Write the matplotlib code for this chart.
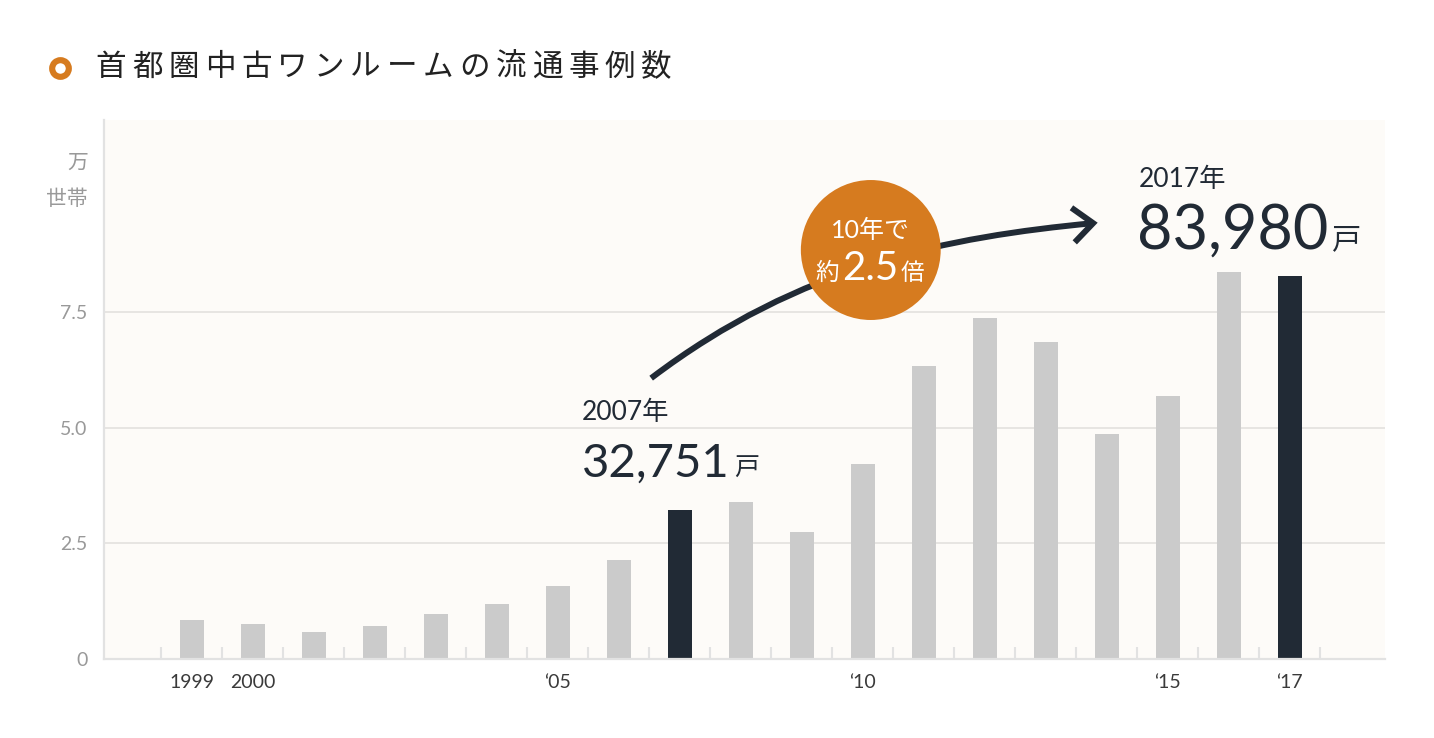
import matplotlib
matplotlib.use("Agg")
import matplotlib.pyplot as plt
from matplotlib.path import Path
from matplotlib.patches import FancyArrowPatch, Ellipse
from matplotlib.lines import Line2D

# -------------------------
# Dati (万戸)
# -------------------------
years = list(range(1999, 2018))
counts = [0.84, 0.76, 0.58, 0.71, 0.97, 1.19, 1.58, 2.14, 3.22, 3.39,
          2.74, 4.21, 6.33, 7.37, 6.85, 4.86, 5.68, 8.36, 8.28]
highlight_years = [2007, 2017]

xtick_years = [1999, 2000, 2005, 2010, 2015, 2017]
xtick_labels = ["1999", "2000", "‘05", "‘10", "‘15", "‘17"]
ytick_vals = [0, 2.5, 5.0, 7.5]
ytick_labels = ["0", "2.5", "5.0", "7.5"]

title = "首都圏中古ワンルームの流通事例数"
unit_label = ["万", "世帯"]

# -------------------------
# Stile
# -------------------------
ORANGE = "#D67B1F"
DARK = "#212A35"
GRAY_BAR = "#CBCBCB"
BG = "#FDFBF8"
LINE = "#E3E1DE"
NUM_FONT = ["Lato", "Noto Sans CJK JP"]
JP_FONT = ["Noto Sans CJK JP", "DejaVu Sans"]

plt.rcParams["font.family"] = NUM_FONT

W, H = 1434, 738
fig = plt.figure(figsize=(W / 100, H / 100), dpi=100)
fig.patch.set_facecolor("white")
ax = fig.add_axes([104 / W, 79 / H, 1281 / W, 539 / H])
ax.set_facecolor(BG)
ax.set_xlim(1997.56, 2018.56)
ax.set_ylim(0, 11.65)

colors = [DARK if y in highlight_years else GRAY_BAR for y in years]
ax.bar(years, counts, width=0.39, color=colors, zorder=2)

# assi e griglia
ax.set_yticks(ytick_vals)
ax.set_yticklabels(ytick_labels)
ax.set_xticks(xtick_years)
ax.set_xticklabels(xtick_labels)
ax.set_xticks([y - 0.5 for y in years] + [years[-1] + 0.5], minor=True)
ax.yaxis.grid(True, color=LINE, lw=1.2)
ax.set_axisbelow(True)
for s in ["top", "right"]:
    ax.spines[s].set_visible(False)
for s in ["left", "bottom"]:
    ax.spines[s].set_color("#E2E2E2")
    ax.spines[s].set_linewidth(1.6)
ax.tick_params(axis="y", length=0, labelsize=14, labelcolor="#999999", pad=12)
ax.tick_params(axis="x", which="major", length=0, labelsize=14, labelcolor="#3A3A3A", pad=11)
ax.tick_params(axis="x", which="minor", direction="in", length=9, width=1.5, color="#E2E2E2")

# unità
ax.text(1997.30, 10.72, unit_label[0], ha="right", va="center", fontsize=15,
        color="#999999", family=JP_FONT)
ax.text(1997.30, 9.94, unit_label[1], ha="right", va="center", fontsize=15,
        color="#999999", family=JP_FONT)

# freccia curva
verts = [(2006.53, 6.07), (2008.98, 8.52), (2011.40, 9.12), (2013.85, 9.43)]
path = Path(verts, [Path.MOVETO, Path.CURVE4, Path.CURVE4, Path.CURVE4])
arrow = FancyArrowPatch(path=path, arrowstyle="->,head_length=14.5,head_width=12.5",
                        mutation_scale=1, lw=4.3, color=DARK, zorder=3,
                        capstyle="butt", joinstyle="miter")
ax.add_patch(arrow)

# cerchio arancione
ax.add_patch(Ellipse((2010.13, 8.84), width=140 / 61.07, height=140 / 46.28,
                     color=ORANGE, zorder=4, lw=0))
ax.text(2010.13, 9.27, "10年で", ha="center", va="center", fontsize=18,
        color="white", zorder=5)
t25 = ax.text(2010.12, 8.19, "2.5", ha="center", va="baseline", fontsize=29,
              color="white", zorder=5)
ax.annotate("約", xy=(0, 8.19), xycoords=(t25, "data"), xytext=(-2, 0),
            textcoords="offset points", ha="right", va="baseline", fontsize=17,
            color="white", family=JP_FONT, zorder=5)
ax.annotate("倍", xy=(1, 8.19), xycoords=(t25, "data"), xytext=(2, 0),
            textcoords="offset points", ha="left", va="baseline", fontsize=17,
            color="white", family=JP_FONT, zorder=5)

# etichette 2007 / 2017
ax.text(2005.40, 5.16, "2007年", ha="left", va="baseline", fontsize=19,
        color=DARK)
t07 = ax.text(2005.40, 3.95, "32,751", ha="left", va="baseline", fontsize=34,
              color=DARK)
ax.annotate("戸", xy=(1, 3.95), xycoords=(t07, "data"), xytext=(3, 0),
            textcoords="offset points", ha="left", va="baseline", fontsize=18,
            color=DARK, family=JP_FONT)

ax.text(2014.52, 10.20, "2017年", ha="left", va="baseline", fontsize=19,
        color=DARK)
t17 = ax.text(2014.49, 8.88, "83,980", ha="left", va="baseline", fontsize=44,
              color=DARK)
ax.annotate("戸", xy=(1, 8.88), xycoords=(t17, "data"), xytext=(3, 0),
            textcoords="offset points", ha="left", va="baseline", fontsize=21,
            color=DARK, family=JP_FONT)

# titolo
fig.add_artist(Line2D([60 / W], [1 - 68 / H], marker="o", ms=12, mfc="none",
                      mec=ORANGE, mew=4.4, transform=fig.transFigure))
for i, ch in enumerate(title):
    fig.text((111 + i * 36.33) / W, 1 - 67 / H, ch, ha="center", va="center",
             fontsize=22, color="#222222", family=JP_FONT)

fig.savefig("out.png", dpi=100, facecolor="white")
